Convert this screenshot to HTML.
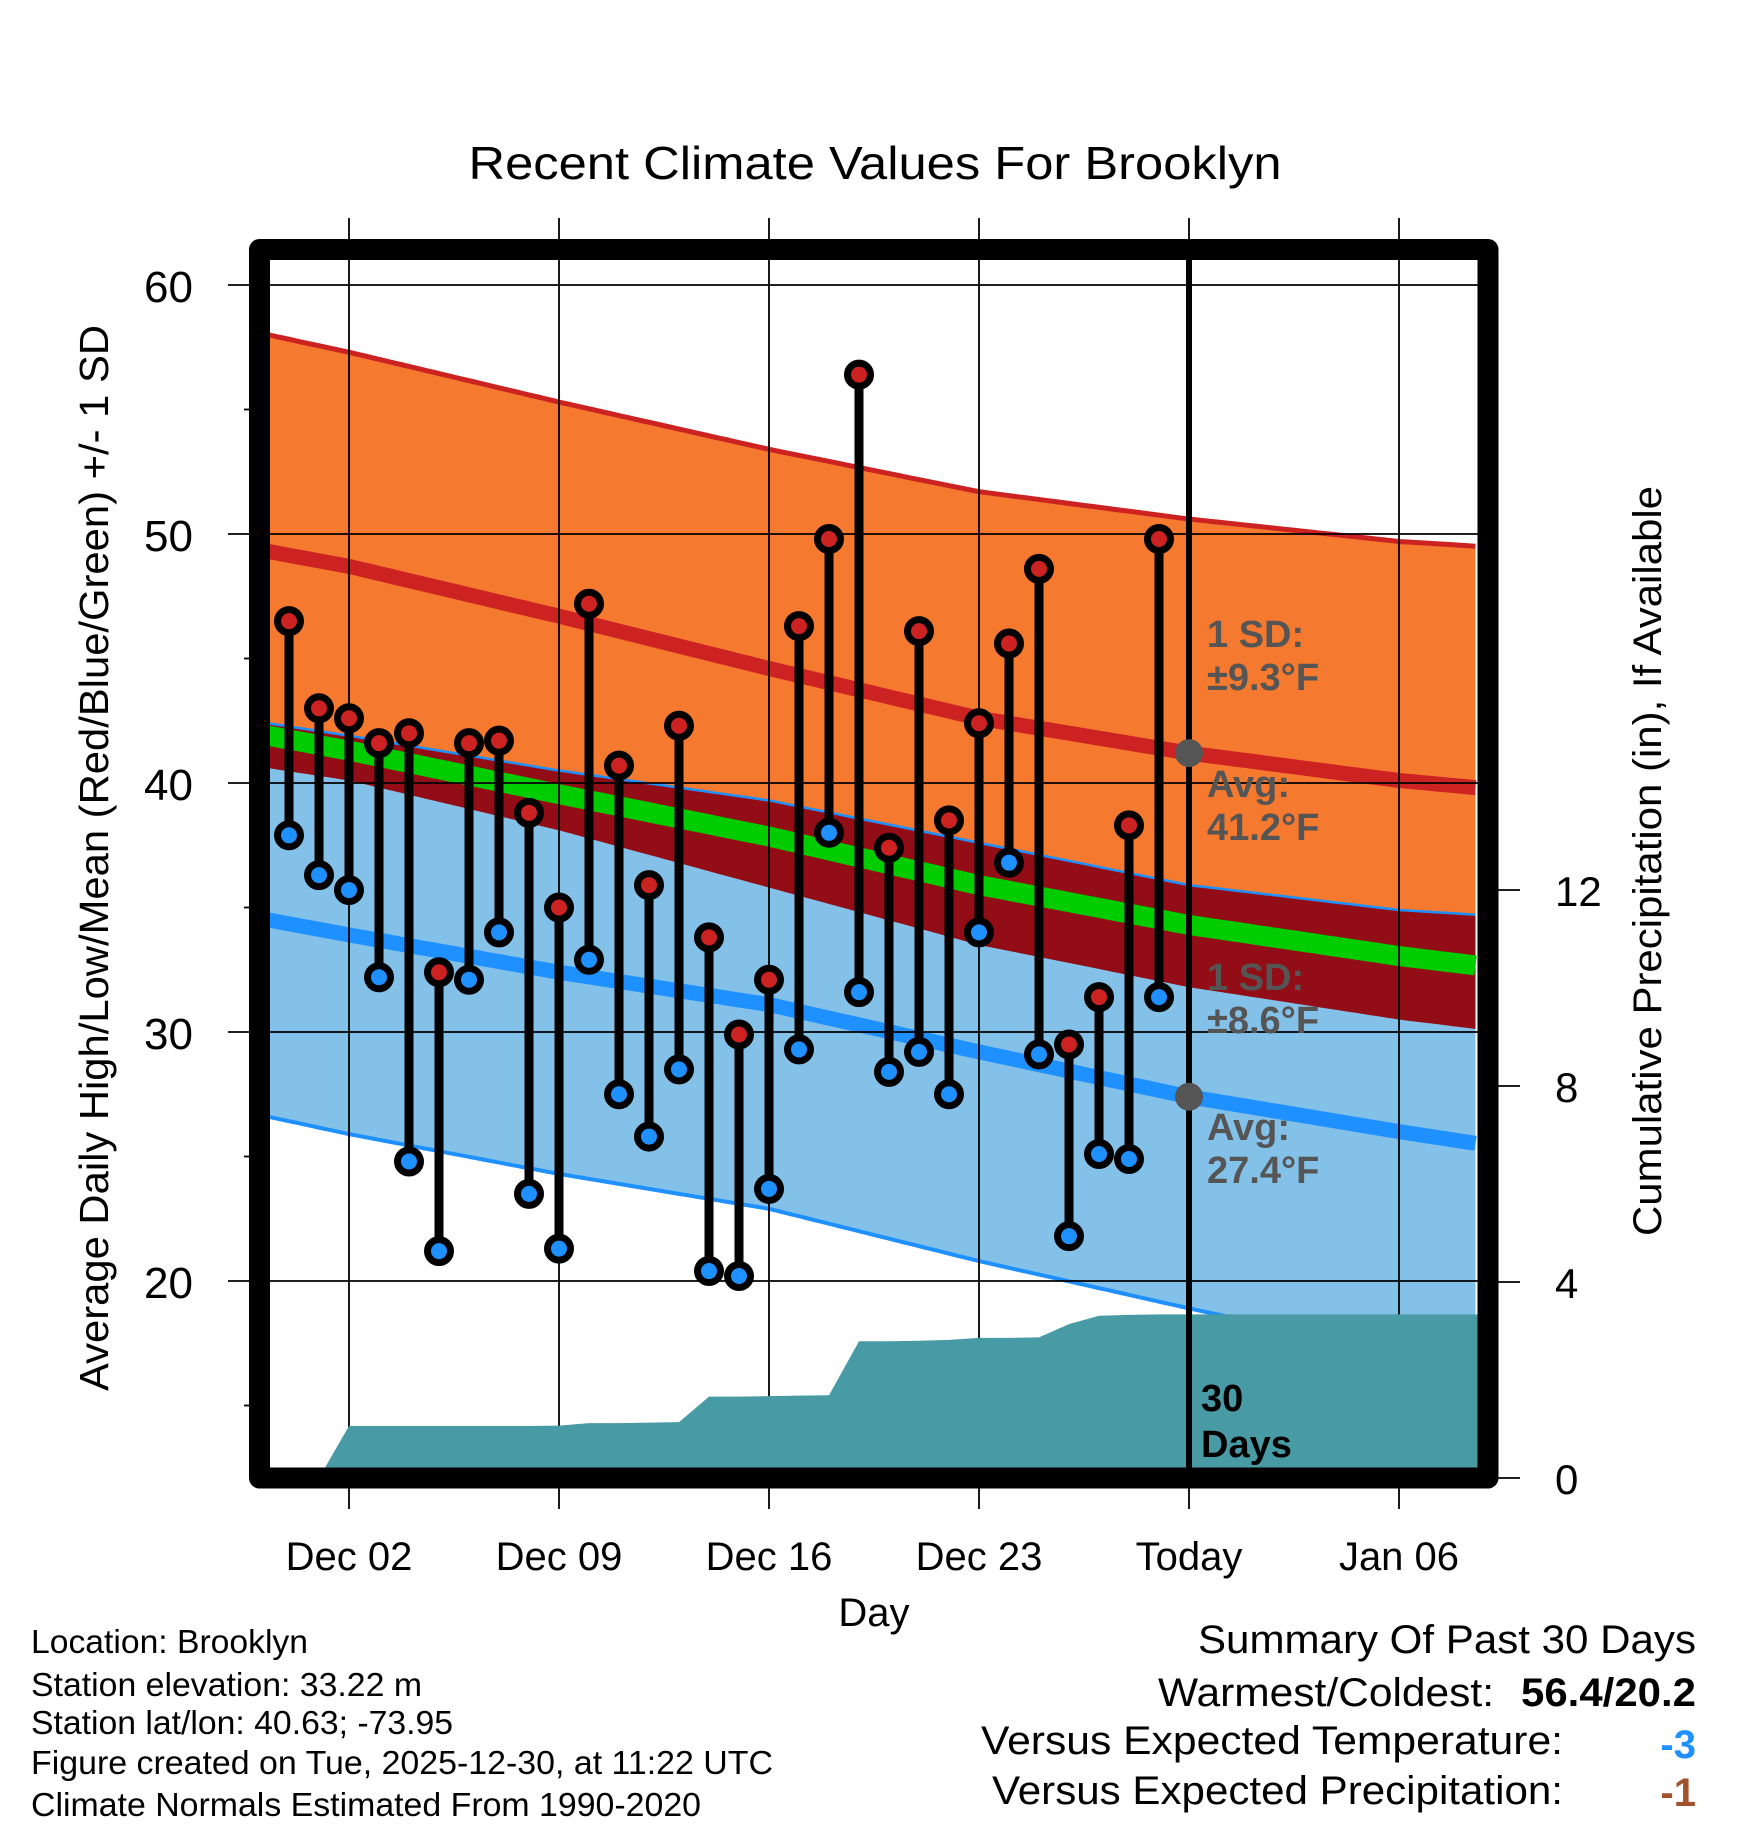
<!DOCTYPE html>
<html><head><meta charset="utf-8"><style>
html,body{margin:0;padding:0;background:#fff}
svg{display:block}
text{font-family:"Liberation Sans",Arial,sans-serif}
</style></head><body>
<svg id="chart" width="1748" height="1828" viewBox="0 0 1748 1828" xmlns="http://www.w3.org/2000/svg">
<defs><clipPath id="plotclip"><rect x="270" y="260" width="1208" height="1208"/></clipPath></defs>
<g id="fills" clip-path="url(#plotclip)"></g>
<g id="grid"></g>
<g id="precip" clip-path="url(#plotclip)"></g>
<g id="marks" clip-path="url(#plotclip)"></g>
<g id="annot">
  <g fill="#555" font-weight="bold" font-size="38">
    <text x="1207" y="647">1 SD:</text>
    <text x="1207" y="690">±9.3°F</text>
    <text x="1207" y="797">Avg:</text>
    <text x="1207" y="840">41.2°F</text>
    <text x="1207" y="990">1 SD:</text>
    <text x="1207" y="1033">±8.6°F</text>
    <text x="1207" y="1140">Avg:</text>
    <text x="1207" y="1183">27.4°F</text>
  </g>
  <g fill="#000" font-weight="bold" font-size="38">
    <text x="1201" y="1411">30</text>
    <text x="1201" y="1457">Days</text>
  </g>
</g>
<rect x="259.5" y="249.5" width="1228.5" height="1228.5" fill="none" stroke="#000" stroke-width="21" stroke-linejoin="round"/>
<g id="axes"></g>
<text x="875" y="179" text-anchor="middle" font-size="46" textLength="813" lengthAdjust="spacingAndGlyphs">Recent Climate Values For Brooklyn</text>
<text x="874" y="1626" text-anchor="middle" font-size="40">Day</text>
<text transform="translate(108,858) rotate(-90)" text-anchor="middle" font-size="41" textLength="1066" lengthAdjust="spacingAndGlyphs">Average Daily High/Low/Mean (Red/Blue/Green) +/- 1 SD</text>
<text transform="translate(1661,861) rotate(-90)" text-anchor="middle" font-size="40" textLength="750" lengthAdjust="spacingAndGlyphs">Cumulative Precipitation (in), If Available</text>
<g font-size="33">
  <text x="31" y="1653" textLength="277" lengthAdjust="spacingAndGlyphs">Location: Brooklyn</text>
  <text x="31" y="1696" textLength="391" lengthAdjust="spacingAndGlyphs">Station elevation: 33.22 m</text>
  <text x="31" y="1734" textLength="422" lengthAdjust="spacingAndGlyphs">Station lat/lon: 40.63; -73.95</text>
  <text x="31" y="1774" textLength="742" lengthAdjust="spacingAndGlyphs">Figure created on Tue, 2025-12-30, at 11:22 UTC</text>
  <text x="31" y="1816" textLength="670" lengthAdjust="spacingAndGlyphs">Climate Normals Estimated From 1990-2020</text>
</g>
<g font-size="40">
  <text x="1696" y="1653" text-anchor="end" textLength="498" lengthAdjust="spacingAndGlyphs">Summary Of Past 30 Days</text>
  <text x="1494" y="1706" text-anchor="end" textLength="336" lengthAdjust="spacingAndGlyphs">Warmest/Coldest:</text>
  <text x="1696" y="1706" text-anchor="end" font-weight="bold" textLength="175" lengthAdjust="spacingAndGlyphs">56.4/20.2</text>
  <text x="1563" y="1754" text-anchor="end" textLength="582" lengthAdjust="spacingAndGlyphs">Versus Expected Temperature:</text>
  <text x="1696" y="1758" text-anchor="end" font-weight="bold" fill="#1e90ff">-3</text>
  <text x="1563" y="1804" text-anchor="end" textLength="571" lengthAdjust="spacingAndGlyphs">Versus Expected Precipitation:</text>
  <text x="1696" y="1806" text-anchor="end" font-weight="bold" fill="#a0522d">-1</text>
</g>
</svg>
<script>
// ---- data ----
const obsDays = [0,1,2,3,4,5,6,7,8,9,10,11,12,13,14,15,16,17,18,19,20,21,22,23,24,25,26,27,28,29];
const highs = [46.5,43.0,42.6,41.6,42.0,32.4,41.6,41.7,38.8,35.0,47.2,40.7,35.9,42.3,33.8,29.9,32.1,46.3,49.8,56.4,37.4,46.1,38.5,42.4,45.6,48.6,29.5,31.4,38.3,49.8];
const lows = [37.9,36.3,35.7,32.2,24.8,21.2,32.1,34.0,23.5,21.3,32.9,27.5,25.8,28.5,20.4,20.2,23.7,29.3,38.0,31.6,28.4,29.2,27.5,34.0,36.8,29.1,21.8,25.1,24.9,31.4];
const precipCum = [0,0,1.06,1.06,1.06,1.06,1.06,1.06,1.06,1.07,1.12,1.12,1.13,1.14,1.66,1.66,1.67,1.68,1.69,2.79,2.79,2.80,2.82,2.86,2.86,2.87,3.14,3.31,3.33,3.34];
const normDays = [-0.7,2,9,16,23,30,37,39.7];
const normHigh = [49.3,48.7,46.7,44.6,42.6,41.2,40.1,39.8];
const sdHigh = [8.7,8.6,8.6,8.8,9.1,9.4,9.6,9.7];
const normLow = [34.5,33.9,32.4,31.1,29.2,27.4,26.0,25.5];
const sdLow = [7.9,8.0,8.1,8.2,8.4,8.5,8.9,9.2];
const xTickDays = [2,9,16,23,30,37];
const xTickLabels = ["Dec 02","Dec 09","Dec 16","Dec 23","Today","Jan 06"];
const yTicks = [20,30,40,50,60];
const yMinor = [15,25,35,45,55];
const precipTicks = [0,4,8,12];
const todayDay = 30;

// ---- scales ----
const X = d => 349 + (d - 2) * 30;
const Y = t => 285 + (60 - t) * 24.9;
const P = p => 1478 - p * 49;
const NS = "http://www.w3.org/2000/svg";
function mk(tag, attrs, parent){const e=document.createElementNS(NS,tag);for(const k in attrs)e.setAttribute(k,attrs[k]);parent.appendChild(e);return e;}
function interp(arr, d){
  for(let i=0;i<normDays.length-1;i++){
    if(d<=normDays[i+1]||i===normDays.length-2){const t=(d-normDays[i])/(normDays[i+1]-normDays[i]);return arr[i]+(arr[i+1]-arr[i])*t;}
  }
}
const samples=[];for(let d=-0.7;d<=39.75;d+=0.25)samples.push(d);
const H=d=>interp(normHigh,d), SH=d=>interp(sdHigh,d), L=d=>interp(normLow,d), SL=d=>interp(sdLow,d);
function pathOf(f){return samples.map((d,i)=>(i?"L":"M")+X(d).toFixed(1)+","+Y(f(d)).toFixed(1)).join("");}
function bandOf(fTop,fBot){let s=samples.map((d,i)=>(i?"L":"M")+X(d).toFixed(1)+","+Y(fTop(d)).toFixed(1)).join("");
  s+=samples.slice().reverse().map(d=>"L"+X(d).toFixed(1)+","+Y(fBot(d)).toFixed(1)).join("");return s+"Z";}

const fills=document.getElementById('fills');
let e;
e=mk('path',{d:bandOf(d=>H(d)+SH(d),d=>H(d)-SH(d)),fill:'#f5792e'},fills);


e=mk('path',{d:bandOf(d=>L(d)+SL(d),d=>L(d)-SL(d)),fill:'#84c1e8'},fills);


e=mk('path',{d:bandOf(d=>Math.max(L(d)+SL(d),H(d)-SH(d)),d=>H(d)-SH(d)),fill:'#920d16'},fills);


e=mk('path',{d:pathOf(d=>L(d)+SL(d)),fill:'none',stroke:'#1e90ff','stroke-width':2.5},fills);


e=mk('path',{d:pathOf(d=>(H(d)+L(d))/2),fill:'none',stroke:'#00cc00','stroke-width':20},fills);


e=mk('path',{d:pathOf(d=>H(d)+SH(d)),fill:'none',stroke:'#cc2222','stroke-width':5},fills);


e=mk('path',{d:pathOf(d=>L(d)-SL(d)),fill:'none',stroke:'#1e90ff','stroke-width':4},fills);


e=mk('path',{d:pathOf(H),fill:'none',stroke:'#cc2222','stroke-width':15},fills);


e=mk('path',{d:pathOf(L),fill:'none',stroke:'#1e90ff','stroke-width':15},fills);



// grid
const grid=document.getElementById('grid');
yTicks.forEach(t=>{e=mk('line',{x1:228,x2:1480,y1:Y(t),y2:Y(t),stroke:'#000','stroke-width':1.8},grid);

});
xTickDays.forEach(d=>{e=mk('line',{x1:X(d),x2:X(d),y1:218,y2:1509,stroke:'#000','stroke-width':1.8},grid);

});

// precip
const pg=document.getElementById('precip');
let pd="M"+X(obsDays[0])+","+P(0);
obsDays.forEach((d,i)=>{pd+="L"+X(d)+","+P(precipCum[i]);});
pd+="L"+X(39.8)+","+P(precipCum[precipCum.length-1])+"L"+X(39.8)+","+P(0)+"Z";
e=mk('path',{d:pd,fill:'#489aa4'},pg);



// marks
const mg=document.getElementById('marks');
e=mk('line',{x1:X(todayDay),x2:X(todayDay),y1:255,y2:1470,stroke:'#000','stroke-width':6},mg);


e=mk('circle',{cx:X(todayDay),cy:Y(H(todayDay)),r:14,fill:'#555'},mg);


e=mk('circle',{cx:X(todayDay),cy:Y(L(todayDay)),r:14,fill:'#555'},mg);


obsDays.forEach((d,i)=>{
  e=mk('line',{x1:X(d),x2:X(d),y1:Y(highs[i]),y2:Y(lows[i]),stroke:'#000','stroke-width':9},mg);
  
  
});
obsDays.forEach((d,i)=>{
  e=mk('circle',{cx:X(d),cy:Y(lows[i]),r:11.5,fill:'#1e90ff',stroke:'#000','stroke-width':7},mg);
  
  
  e=mk('circle',{cx:X(d),cy:Y(highs[i]),r:11.5,fill:'#cc2222',stroke:'#000','stroke-width':7},mg);
  
  
});

// axes
const ax=document.getElementById('axes');
yTicks.forEach(t=>{
  e=mk('text',{x:193,y:Y(t)+17,'text-anchor':'end','font-size':44},ax);e.textContent=t;
  
  
});
yMinor.forEach(t=>{
  e=mk('line',{x1:244,x2:250,y1:Y(t),y2:Y(t),stroke:'#000','stroke-width':1.8},ax);
  
  
});
xTickDays.forEach((d,i)=>{
  e=mk('text',{x:X(d),y:1570,'text-anchor':'middle','font-size':40},ax);e.textContent=xTickLabels[i];
  
  
});
precipTicks.forEach(p=>{
  e=mk('line',{x1:1497,x2:1520,y1:P(p),y2:P(p),stroke:'#000','stroke-width':1.8},ax);
  
  
  e=mk('text',{x:1555,y:P(p)+16,'font-size':42},ax);e.textContent=p;
  
  
});
</script>
</body></html>
